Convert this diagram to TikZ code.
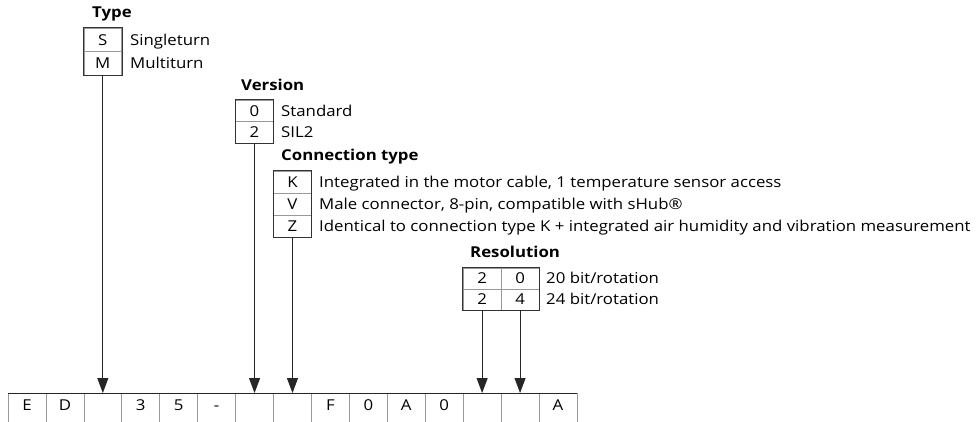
\documentclass[tikz,border=0pt]{standalone}
\usepackage{fontspec}
\setmainfont{Open Sans}[FakeStretch=1.12]
\usetikzlibrary{arrows.meta}
\newcommand{\cw}{37.93}
\begin{document}
\begin{tikzpicture}[x=1pt,y=-1pt,
  txt/.style={font=\fontsize{15}{17}\selectfont},
  cell/.style={txt,draw=black!40,line width=0.7pt,minimum width=\cw pt,minimum height=#1,inner sep=0pt,text height=10.7pt,text depth=0pt},
  cell/.default=22pt,
  frame/.style={draw=black!80,line width=0.8pt},
  lbl/.style={txt,anchor=base west,inner sep=0pt,yshift=-5.35pt},
  ttl/.style={anchor=mid west,inner sep=0pt,font=\fontsize{15}{17}\selectfont\bfseries},
  bcell/.style={txt,draw=black!40,line width=0.7pt,minimum width=\cw pt,inner sep=0pt,text height=17pt,text depth=20pt,anchor=north},
  conn/.style={draw=black!85,line width=0.9pt,-{Triangle[width=11pt,length=15pt]}}]
\useasboundingbox (0,0) rectangle (976,421);
\clip (0,0) rectangle (976,421);

% bottom row
\foreach \t [count=\i] in {E,D,{},3,5,-,{},{},F,0,A,0,{},{},A}
  \node[bcell] (c\i) at ({8+(\i-0.5)*\cw},393) {\t};
\draw[black!85,line width=0.9pt] (c1.north west) -- (c15.north east);

% Type
\node[ttl] (ttype) at (92,15) {Type};
\node[cell=23.5pt] (tS) at ({8+2.5*\cw},39.75) {S};
\node[cell=23.5pt] (tM) at ({8+2.5*\cw},63.25) {M};
\draw[frame] (tS.north west) rectangle (tM.south east);
\node[lbl] (lS) at (130,39.75) {Singleturn};
\node[lbl] (lM) at (130,63.25) {Multiturn};

% Version
\node[ttl] (tver) at (241,88) {Version};
\node[cell=21.5pt] (v0) at ({8+6.5*\cw},110.75) {0};
\node[cell=21.5pt] (v2) at ({8+6.5*\cw},132.25) {2};
\draw[frame] (v0.north west) rectangle (v2.south east);
\node[lbl] (l0) at (281,110.75) {Standard};
\node[lbl] (l2) at (281,132.25) {SIL2};

% Connection type
\node[ttl] (tcon) at (281,158) {Connection type};
\node[cell] (kK) at ({8+7.5*\cw},182) {K};
\node[cell] (kV) at ({8+7.5*\cw},204) {V};
\node[cell] (kZ) at ({8+7.5*\cw},226) {Z};
\draw[frame] (kK.north west) rectangle (kZ.south east);
\node[lbl] (lK) at (319,182) {Integrated in the motor cable, 1 temperature sensor access};
\node[lbl] (lV) at (319,204) {Male connector, 8-pin, compatible with sHub®};
\node[lbl] (lZ) at (319,226) {Identical to connection type K + integrated air humidity and vibration measurement};

% Resolution
\node[ttl] (tres) at (470,255) {Resolution};
\node[cell=21pt] (r1a) at ({8+12.5*\cw},278.5) {2};
\node[cell=21pt] (r1b) at ({8+13.5*\cw},278.5) {0};
\node[cell=21pt] (r2a) at ({8+12.5*\cw},299.5) {2};
\node[cell=21pt] (r2b) at ({8+13.5*\cw},299.5) {4};
\draw[frame] (r1a.north west) rectangle (r2b.south east);
\node[lbl] (l20) at (546,278.5) {20 bit/rotation};
\node[lbl] (l24) at (546,299.5) {24 bit/rotation};

% connectors
\draw[conn] (tM.south) -- (c3.north);
\draw[conn] (v2.south) -- (c7.north);
\draw[conn] (kZ.south) -- (c8.north);
\draw[conn] (r2a.south) -- (c13.north);
\draw[conn] (r2b.south) -- (c14.north);
\end{tikzpicture}
\end{document}
